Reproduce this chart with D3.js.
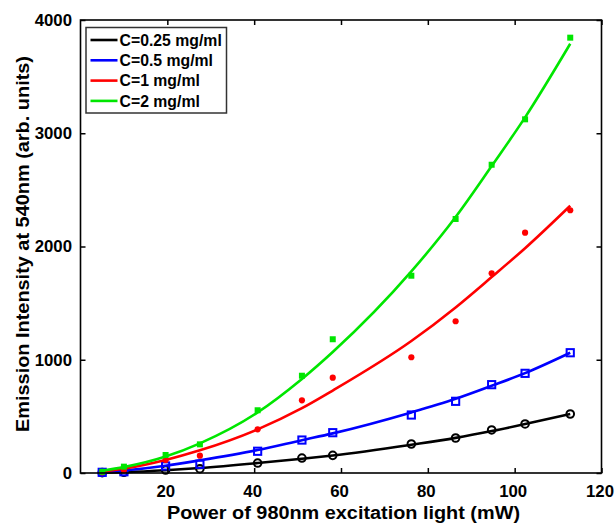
<!DOCTYPE html>
<html>
<head>
<meta charset="utf-8">
<script src="https://cdn.jsdelivr.net/npm/d3@7/dist/d3.min.js"></script>
<style>
  html, body { margin: 0; padding: 0; background: #fff; }
  svg { display: block; }
  text { font-family: "Liberation Sans", Arial, Helvetica, sans-serif; font-weight: bold; fill: #000; }
</style>
</head>
<body>
<svg id="chart" width="616" height="525"></svg>
<script>
// Excitation power (mW) for each measurement
const power = [5, 10, 19.6, 27.5, 40.8, 51, 58.1, 76.2, 86.4, 94.7, 102.4, 112.8];

// Measured emission intensity at 540 nm (arb. units)
const c025 = [3, 6, 26, 38, 88, 132, 156, 256, 309, 380, 433, 521];
const c05  = [6, 11, 62, 77, 192, 291, 356, 512, 633, 780, 880, 1062];
const c1   = [6, 26, 115, 153, 386, 642, 842, 1022, 1340, 1763, 2122, 2320];
const c2   = [11, 56, 159, 253, 554, 859, 1181, 1742, 2243, 2722, 3123, 3844];

// Fitted curves, sampled at the same powers
const fit025 = [2, 7, 24, 44, 88, 126, 155, 250, 310, 370, 432, 521];
const fit05  = [8, 22, 64, 112, 203, 290, 350, 535, 655, 770, 882, 1062];
const fit1   = [12, 38, 115, 200, 385, 572, 728, 1165, 1462, 1730, 1985, 2360];
const fit2   = [20, 52, 145, 262, 535, 830, 1068, 1780, 2260, 2710, 3140, 3790];

const seriesNames = ["C=0.25 mg/ml", "C=0.5 mg/ml", "C=1 mg/ml", "C=2 mg/ml"];
const seriesColors = ["#000000", "#0000ff", "#ff0000", "#00e600"];
const seriesMarkers = ["circle", "square", "dot", "filledSquare"];

const xTicks = [20, 40, 60, 80, 100, 120];
const yTicks = [0, 1000, 2000, 3000, 4000];

const xLabel = "Power of 980nm excitation light (mW)";
const yLabel = "Emission Intensity at 540nm (arb. units)";

const svg = d3.select("#chart");
const plotLeft = 80.5, plotRight = 601.5, plotTop = 20, plotBottom = 473;

const x = d3.scaleLinear().domain([0, 120]).range([plotLeft, plotRight]);
const y = d3.scaleLinear().domain([0, 4000]).range([plotBottom, plotTop]);

const measured = [c025, c05, c1, c2];
const fitted = [fit025, fit05, fit1, fit2];

const line = d3.line()
  .x(d => x(d[0]))
  .y(d => y(d[1]))
  .curve(d3.curveMonotoneX);

const plot = svg.append("g");

seriesNames.forEach((name, i) => {
  const color = seriesColors[i];
  const g = plot.append("g");
  const fitPts = power.map((p, k) => [p, fitted[i][k]]);
  g.append("path")
    .attr("d", line(fitPts))
    .attr("fill", "none")
    .attr("stroke", color)
    .attr("stroke-width", 2.6);

  const pts = power.map((p, k) => [p, measured[i][k]]);
  const m = seriesMarkers[i];
  if (m === "circle") {
    g.selectAll("circle").data(pts).join("circle")
      .attr("cx", d => x(d[0])).attr("cy", d => y(d[1]))
      .attr("r", 3.8).attr("fill", "none")
      .attr("stroke", color).attr("stroke-width", 2);
  } else if (m === "square") {
    g.selectAll("rect").data(pts).join("rect")
      .attr("x", d => x(d[0]) - 3.6).attr("y", d => y(d[1]) - 3.6)
      .attr("width", 7.2).attr("height", 7.2).attr("fill", "none")
      .attr("stroke", color).attr("stroke-width", 2);
  } else if (m === "dot") {
    g.selectAll("circle").data(pts).join("circle")
      .attr("cx", d => x(d[0])).attr("cy", d => y(d[1]))
      .attr("r", 3.1).attr("fill", color);
  } else {
    g.selectAll("rect").data(pts).join("rect")
      .attr("x", d => x(d[0]) - 3).attr("y", d => y(d[1]) - 3)
      .attr("width", 6).attr("height", 6).attr("fill", color);
  }
});

// Axes with inward ticks on all four sides
const tickLen = 5;
const fontSize = "16.8px";

const xAxis = svg.append("g").attr("transform", `translate(0,${plotBottom})`)
  .call(d3.axisBottom(x).tickValues(xTicks).tickSize(-tickLen).tickPadding(12).tickFormat(d3.format("d")));
const yAxis = svg.append("g").attr("transform", `translate(${plotLeft},0)`)
  .call(d3.axisLeft(y).tickValues(yTicks).tickSize(-tickLen).tickPadding(8.5).tickFormat(d3.format("d")));
const xTop = svg.append("g").attr("transform", `translate(0,${plotTop})`)
  .call(d3.axisTop(x).tickValues(xTicks).tickSize(-tickLen).tickFormat(""));
const yRight = svg.append("g").attr("transform", `translate(${plotRight},0)`)
  .call(d3.axisRight(y).tickValues(yTicks).tickSize(-tickLen).tickFormat(""));

[xAxis, yAxis, xTop, yRight].forEach(a => {
  a.select(".domain").remove();
  a.selectAll(".tick line").attr("stroke", "#000").attr("stroke-width", 1.5);
  a.selectAll("text").attr("font-size", fontSize)
    .attr("font-family", "'Liberation Sans', Arial, sans-serif")
    .attr("font-weight", "bold").attr("fill", "#000");
});
xAxis.selectAll("text").attr("dx", -2);

svg.append("rect")
  .attr("x", plotLeft).attr("y", plotTop)
  .attr("width", plotRight - plotLeft).attr("height", plotBottom - plotTop)
  .attr("fill", "none").attr("stroke", "#000").attr("stroke-width", 1.6);

// Axis titles
svg.append("text")
  .attr("x", 343.5).attr("y", 518.8)
  .attr("text-anchor", "middle").attr("font-size", "17.5px")
  .attr("textLength", 353).attr("lengthAdjust", "spacingAndGlyphs")
  .text(xLabel);

svg.append("text")
  .attr("transform", `translate(28.5,244) rotate(-90)`)
  .attr("text-anchor", "middle").attr("font-size", "17.5px")
  .attr("textLength", 376).attr("lengthAdjust", "spacingAndGlyphs")
  .text(yLabel);

// Legend
const legend = svg.append("g");
legend.append("rect")
  .attr("x", 86).attr("y", 27.5).attr("width", 140.5).attr("height", 85.5)
  .attr("fill", "#fff").attr("stroke", "#333").attr("stroke-width", 1.5);

seriesNames.forEach((name, i) => {
  const ly = 40 + i * 20.3;
  legend.append("line")
    .attr("x1", 90.5).attr("x2", 117.5).attr("y1", ly).attr("y2", ly)
    .attr("stroke", seriesColors[i]).attr("stroke-width", 2.6);
  legend.append("text")
    .attr("x", 119.5).attr("y", ly).attr("dy", "0.36em")
    .attr("font-size", "15.8px")
    .text(name);
});
</script>
</body>
</html>
